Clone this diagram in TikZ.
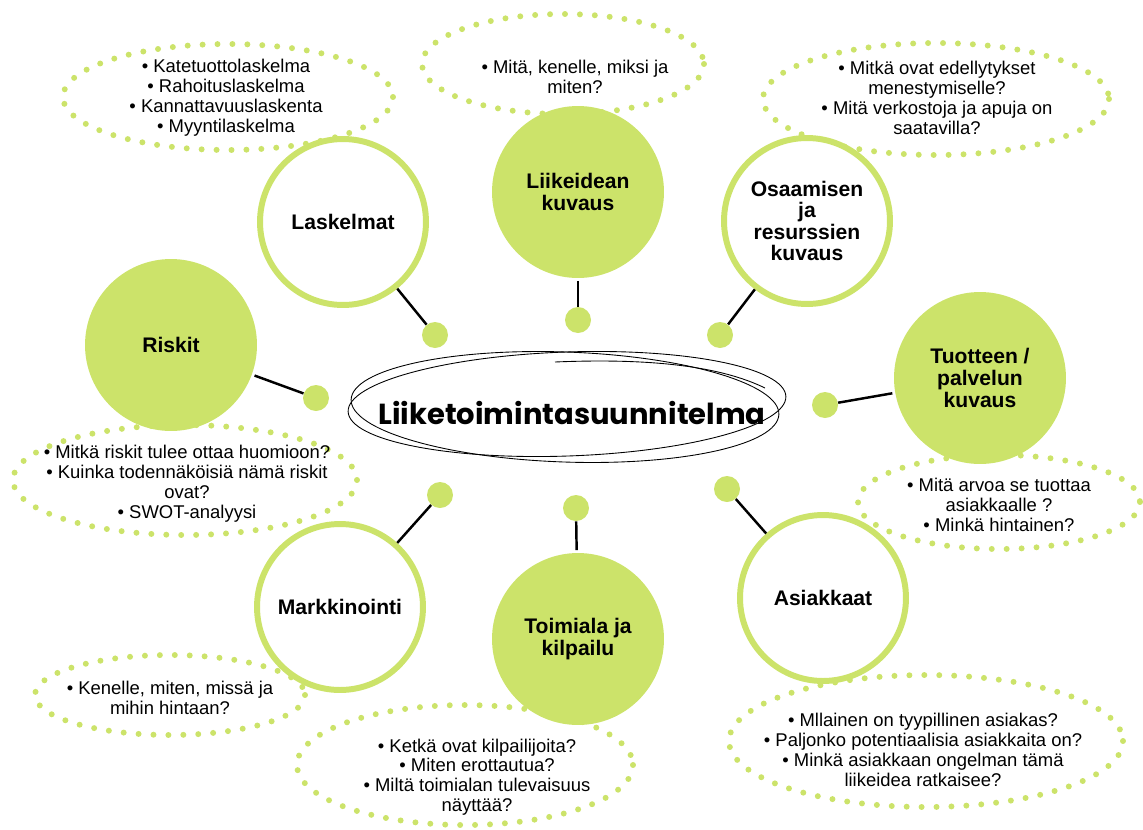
\documentclass[tikz,border=0pt]{standalone}
\usepackage{fontspec}
\setmainfont{Liberation Sans}
\newfontfamily\titlefont{Poppins}
\usepackage{tikz}
\usetikzlibrary{positioning}
\definecolor{lime}{RGB}{204,227,106}

\begin{document}
\begin{tikzpicture}[x=0.02cm,y=-0.02cm,
  topic/.style={shape=circle,draw=lime,line width=3.4pt,fill=white,minimum size=3.32cm,inner sep=0pt,align=center,font=\fontsize{12}{12.3}\selectfont\bfseries},
  topicfill/.style={topic,draw=none,fill=lime,minimum size=3.44cm},
  knob/.style={shape=circle,fill=lime,minimum size=0.52cm,inner sep=0pt},
  dotring/.style={draw=lime,line width=3.4pt,line cap=round,dash pattern=on 0pt off 8.5pt},
  qtext/.style={align=center,font=\fontsize{10.5}{11.3}\selectfont},
  link/.style={line width=1.4pt}]
\useasboundingbox (0,0) rectangle (1143,829);
% dotted question rings
\draw[dotring] (228,97) ellipse (165 and 53);
\draw[dotring] (563,64) ellipse (141 and 50);
\draw[dotring] (936,99) ellipse (173 and 56);
\draw[dotring] (185,480) ellipse (172 and 55);
\draw[dotring] (999,502) ellipse (141 and 47);
\draw[dotring] (170,695) ellipse (135 and 40);
\draw[dotring] (465,765) ellipse (168 and 60);
\draw[dotring] (926,741) ellipse (197 and 66);
\node[qtext] (qlask) at (226,98) {• Katetuottolaskelma\\• Rahoituslaskelma\\• Kannattavuuslaskenta\\• Myyntilaskelma};
\node[qtext] (qidea) at (575,77) {• Mitä, kenelle, miksi ja\\miten?};
\node[qtext] (qosaa) at (937,98) {• Mitkä ovat edellytykset\\menestymiselle?\\• Mitä verkostoja ja apuja on\\saatavilla?};
\node[qtext] (qriski) at (187,484) {• Mitkä riskit tulee ottaa huomioon?\\• Kuinka todennäköisiä nämä riskit\\ovat?\\• SWOT-analyysi};
\node[qtext] (qtuote) at (999,505) {• Mitä arvoa se tuottaa\\asiakkaalle ?\\• Minkä hintainen?};
\node[qtext] (qmarkk) at (170,698) {• Kenelle, miten, missä ja\\mihin hintaan?};
\node[qtext] (qtoimi) at (477,777) {• Ketkä ovat kilpailijoita?\\• Miten erottautua?\\• Miltä toimialan tulevaisuus\\näyttää?};
\node[qtext] (qasiak) at (923,750) {• Mllainen on tyypillinen asiakas?\\• Paljonko potentiaalisia asiakkaita on?\\• Minkä asiakkaan ongelman tämä\\liikeidea ratkaisee?};
% centre
\draw[line width=0.5pt] (567,404) ellipse [x radius=219,y radius=52,rotate=2];
\draw[line width=0.5pt] (565,407) ellipse [x radius=214,y radius=55,rotate=-2];
\draw[line width=0.5pt] (555,362) .. controls (650,358) and (720,366) .. (765,388);
\node[font=\titlefont\bfseries\fontsize{16.5}{19}\selectfont] (plan) at (572,413) {Liiketoimintasuunnitelma};
% topics
\node[topic] (lask) at (343,222) {Laskelmat};
\node[topicfill] (idea) at (578,192) {Liikeidean\\kuvaus};
\node[topic] (osaa) at (807,221) {Osaamisen\\ja\\resurssien\\kuvaus};
\node[topicfill] (tuote) at (980,378) {Tuotteen /\\palvelun\\kuvaus};
\node[topicfill] (riski) at (171,345) {Riskit};
\node[topic] (markk) at (340,607) {Markkinointi};
\node[topicfill] (toimi) at (578,639) {Toimiala ja\\kilpailu};
\node[topic] (asiak) at (823,598) {Asiakkaat};
% knobs
\node[knob] (dlask) at (435,335) {};
\node[knob] (didea) at (578,320) {};
\node[knob] (dosaa) at (720,335) {};
\node[knob] (dtuote) at (825,405) {};
\node[knob] (driski) at (316,398) {};
\node[knob] (dmarkk) at (440,495) {};
\node[knob] (dtoimi) at (576,508) {};
\node[knob] (dasiak) at (727,489) {};
\draw[link] (lask) -- (dlask);
\draw[link] (idea) -- (didea);
\draw[link] (osaa) -- (dosaa);
\draw[link] (tuote) -- (dtuote);
\draw[link] (riski) -- (driski);
\draw[link] (markk) -- (dmarkk);
\draw[link] (toimi) -- (dtoimi);
\draw[link] (asiak) -- (dasiak);
\end{tikzpicture}
\end{document}
